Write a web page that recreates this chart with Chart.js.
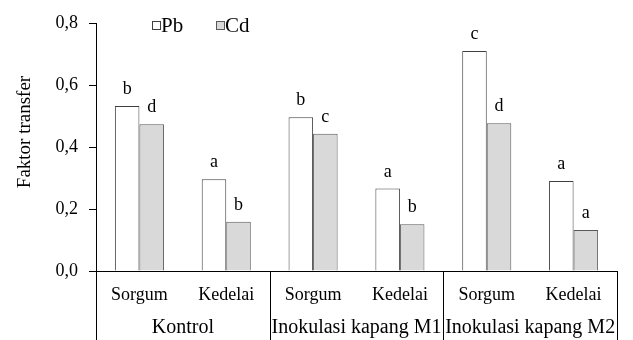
<!DOCTYPE html>
<html>
<head>
<meta charset="utf-8">
<style>
  html, body { margin: 0; padding: 0; background: #fff; }
  canvas { display: block; }
</style>
</head>
<body>
<canvas id="grafik" width="633" height="340"></canvas>
<script src="https://cdn.jsdelivr.net/npm/chart.js"></script>
<script>
  // data
  const kategori = ['Sorgum', 'Kedelai', 'Sorgum', 'Kedelai', 'Sorgum', 'Kedelai'];
  const kelompok = ['Kontrol', 'Inokulasi kapang M1', 'Inokulasi kapang M2'];
  const nilaiPb = [0.532, 0.296, 0.496, 0.266, 0.710, 0.290];
  const nilaiCd = [0.473, 0.159, 0.443, 0.151, 0.477, 0.132];
  const hurufPb = ['b', 'a', 'b', 'a', 'c', 'a'];
  const hurufCd = ['d', 'b', 'c', 'b', 'd', 'a'];
  const yTicks = [0, 0.2, 0.4, 0.6, 0.8];
  const judulY = 'Faktor transfer';

  const fontSerif = '"Liberation Serif", "Times New Roman", serif';

  // letters above bars, legend, y title, group labels
  const anotasi = {
    id: 'anotasi',
    afterDraw(chart) {
      const ctx = chart.ctx;
      const area = chart.chartArea;
      const x = chart.scales.x;
      ctx.save();
      ctx.fillStyle = '#000';

      // huruf di atas batang
      ctx.font = '18px ' + fontSerif;
      ctx.textAlign = 'center';
      ctx.textBaseline = 'alphabetic';
      [hurufPb, hurufCd].forEach((huruf, d) => {
        chart.getDatasetMeta(d).data.forEach((bar, i) => {
          ctx.fillText(huruf[i], bar.x, bar.y - 12);
        });
      });

      // garis pemisah kelompok + label kelompok
      const lebar = x.getPixelForValue(1) - x.getPixelForValue(0);
      ctx.strokeStyle = '#000';
      ctx.lineWidth = 1;
      for (let g = 0; g <= kelompok.length; g++) {
        let px = g < kelompok.length ? x.getPixelForValue(g * 2) - lebar / 2 : area.right;
        px = Math.round(px) + 0.5;
        ctx.beginPath();
        ctx.moveTo(px, area.bottom);
        ctx.lineTo(px, chart.height);
        ctx.stroke();
      }
      ctx.font = '20px ' + fontSerif;
      ctx.textBaseline = 'middle';
      kelompok.forEach((nama, g) => {
        const cx = (x.getPixelForValue(g * 2) + x.getPixelForValue(g * 2 + 1)) / 2;
        ctx.fillText(nama, cx, 328);
      });

      // judul sumbu y
      ctx.font = '19px ' + fontSerif;
      ctx.save();
      ctx.translate(25, 132);
      ctx.rotate(-Math.PI / 2);
      ctx.fillText(judulY, 0, 0);
      ctx.restore();

      // legenda
      ctx.font = '21px ' + fontSerif;
      const ds = chart.data.datasets;
      const posisi = [152, 216];
      ctx.textAlign = 'left';
      ds.forEach((d, i) => {
        ctx.fillStyle = d.backgroundColor;
        ctx.strokeStyle = d.borderColor;
        ctx.fillRect(posisi[i] + 0.5, 21.5, 8, 8);
        ctx.strokeRect(posisi[i] + 0.5, 21.5, 8, 8);
        ctx.fillStyle = '#000';
        ctx.fillText(d.label, posisi[i] + 9, 26);
      });
      ctx.restore();
    }
  };

  new Chart(document.getElementById('grafik'), {
    type: 'bar',
    data: {
      labels: kategori,
      datasets: [
        { label: 'Pb', data: nilaiPb, backgroundColor: '#ffffff', borderColor: '#404040', borderWidth: 1 },
        { label: 'Cd', data: nilaiCd, backgroundColor: '#d9d9d9', borderColor: '#595959', borderWidth: 1 }
      ]
    },
    options: {
      responsive: false,
      animation: false,
      devicePixelRatio: 1,
      categoryPercentage: 0.565,
      barPercentage: 1,
      layout: { padding: { top: 23, right: 16, left: 0, bottom: 0 } },
      plugins: {
        legend: { display: false },
        tooltip: { enabled: false }
      },
      scales: {
        x: {
          grid: { display: false, drawTicks: false },
          border: { display: true, color: '#000', width: 1 },
          ticks: { color: '#000', font: { family: fontSerif, size: 18 }, padding: 13, maxRotation: 0 },
          afterFit(scale) { scale.height = 69; }
        },
        y: {
          min: 0,
          max: 0.8,
          afterBuildTicks(scale) { scale.ticks = yTicks.map(v => ({ value: v })); },
          grid: { display: true, drawOnChartArea: false, drawTicks: true, tickLength: 7, color: '#000' },
          border: { display: true, color: '#000', width: 1 },
          ticks: {
            color: '#000',
            padding: 11,
            font: { family: fontSerif, size: 18 },
            callback: v => v.toFixed(1).replace('.', ',')
          },
          afterFit(scale) { scale.width = 96; }
        }
      }
    },
    plugins: [anotasi]
  });
</script>
</body>
</html>
